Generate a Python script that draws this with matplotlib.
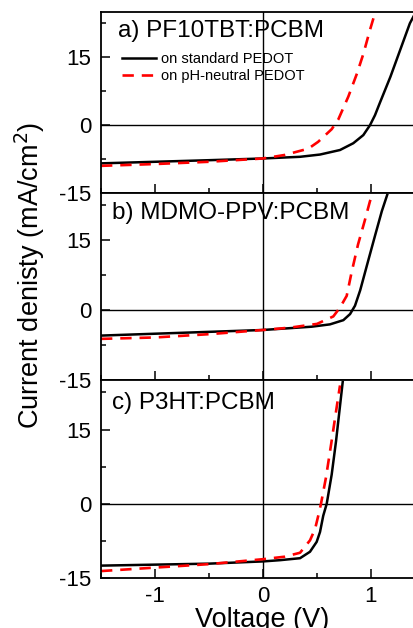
import matplotlib
matplotlib.use("Agg")
import matplotlib.pyplot as plt
from matplotlib.ticker import MultipleLocator

plt.rcParams['font.family'] = ['Liberation Sans', 'DejaVu Sans']
plt.rcParams['axes.unicode_minus'] = False

# panel labels and legend labels
panels = ["a) PF10TBT:PCBM", "b) MDMO-PPV:PCBM", "c) P3HT:PCBM"]
labels = ["on standard PEDOT", "on pH-neutral PEDOT"]

# a) standard PEDOT
va_std = [-1.5, -1.0, -0.5, 0.0, 0.343, 0.528, 0.713, 0.836, 0.929, 0.991, 1.037, 1.08, 1.18, 1.27, 1.36, 1.40]
ja_std = [-8.45, -8.1, -7.75, -7.37, -7.0, -6.5, -5.5, -4.0, -2.2, 0.0, 2.2, 4.8, 10.7, 16.6, 22.5, 24.3]
# a) pH-neutral PEDOT
va_neu = [-1.5, -1.0, -0.5, 0.0, 0.2, 0.42, 0.51, 0.636, 0.698, 0.79, 0.87, 0.93, 0.99, 1.04]
ja_neu = [-9.0, -8.6, -8.1, -7.37, -6.6, -5.2, -3.7, -0.9, 1.3, 6.3, 11.4, 15.8, 21.0, 25.0]

# b) standard PEDOT
vb_std = [-1.5, -1.0, -0.5, 0.0, 0.45, 0.62, 0.744, 0.806, 0.852, 0.90, 0.975, 1.04, 1.10, 1.15]
jb_std = [-5.5, -5.1, -4.7, -4.3, -3.6, -3.1, -2.2, -0.9, 0.9, 4.2, 10.6, 16.1, 21.1, 24.6]
# b) pH-neutral PEDOT
vb_neu = [-1.5, -1.0, -0.5, 0.0, 0.25, 0.5, 0.651, 0.713, 0.775, 0.82, 0.88, 0.94, 0.99, 1.015]
jb_neu = [-6.2, -5.9, -5.2, -4.3, -3.8, -3.0, -1.4, 0.5, 3.0, 8.0, 14.0, 18.9, 23.2, 25.0]

# c) standard PEDOT
vc_std = [-1.5, -1.0, -0.5, 0.0, 0.157, 0.343, 0.435, 0.497, 0.528, 0.558, 0.59, 0.636, 0.676, 0.707, 0.738]
jc_std = [-12.5, -12.3, -12.1, -11.65, -11.4, -11.0, -9.7, -7.7, -5.7, -2.4, 0.0, 5.9, 12.6, 18.6, 24.6]
# c) pH-neutral PEDOT
vc_neu = [-1.5, -1.0, -0.5, 0.0, 0.2, 0.343, 0.435, 0.482, 0.512, 0.537, 0.583, 0.63, 0.676, 0.713]
jc_neu = [-13.6, -12.9, -12.2, -11.2, -10.7, -9.9, -7.4, -5.1, -2.4, 0.0, 5.3, 11.9, 18.6, 23.9]

curves = [(va_std, ja_std, va_neu, ja_neu),
          (vb_std, jb_std, vb_neu, jb_neu),
          (vc_std, jc_std, vc_neu, jc_neu)]

W, H = 414, 628
fig = plt.figure(figsize=(W / 100, H / 100), dpi=100)

# axes boxes in pixels: top, bottom
boxes = [(12, 193), (193, 380), (380, 578)]
x0, x1 = 101, 419.6
title_pos = [(0.053, 0.895), (0.035, 0.893), (0.035, 0.884)]

for i, ((top, bot), (v1, j1, v2, j2)) in enumerate(zip(boxes, curves)):
    ax = fig.add_axes([x0 / W, 1 - bot / H, (x1 - x0) / W, (bot - top) / H])
    ax.axhline(0, color='black', lw=1.0)
    ax.axvline(0, color='black', lw=1.0)
    ax.plot(v1, j1, color='black', lw=1.8, label=labels[0])
    ax.plot(v2, j2, color='red', lw=1.9, dashes=(4.3, 3), label=labels[1])
    ax.set_xlim(-1.5, 1.45)
    ax.set_ylim(-15, 25)
    ax.xaxis.set_major_locator(MultipleLocator(1))
    ax.xaxis.set_minor_locator(MultipleLocator(0.5))
    ax.yaxis.set_major_locator(MultipleLocator(15))
    ax.yaxis.set_minor_locator(MultipleLocator(7.5))
    ax.tick_params(which='both', direction='in', width=1.1, top=False, right=False)
    ax.tick_params(which='major', length=6.5)
    ax.tick_params(which='minor', length=3.8)
    ax.tick_params(axis='y', labelsize=16, pad=7)
    ax.tick_params(axis='x', labelsize=16, pad=6)
    ax.spines['right'].set_visible(False)
    for s in ['left', 'top', 'bottom']:
        ax.spines[s].set_linewidth(1.3)
    if i < 2:
        ax.tick_params(axis='x', labelbottom=False)
    tx, ty = title_pos[i]
    ax.text(tx, ty, panels[i], transform=ax.transAxes, fontsize=17.5,
            ha='left', va='center')
    if i == 0:
        ax.legend(loc='upper left', bbox_to_anchor=(0.066, 0.78), frameon=False,
                  fontsize=10.5, borderpad=0, handlelength=2.3,
                  handletextpad=0.35, labelspacing=0.22, borderaxespad=0)

fig.text(0.072, 0.562, "Current denisty (mA/cm$^2$)", rotation=90,
         ha='center', va='center', fontsize=19.5)
fig.text(0.633, 0.033, "Voltage (V)", ha='center', va='top', fontsize=19.5)

fig.savefig("out.png", dpi=100)
